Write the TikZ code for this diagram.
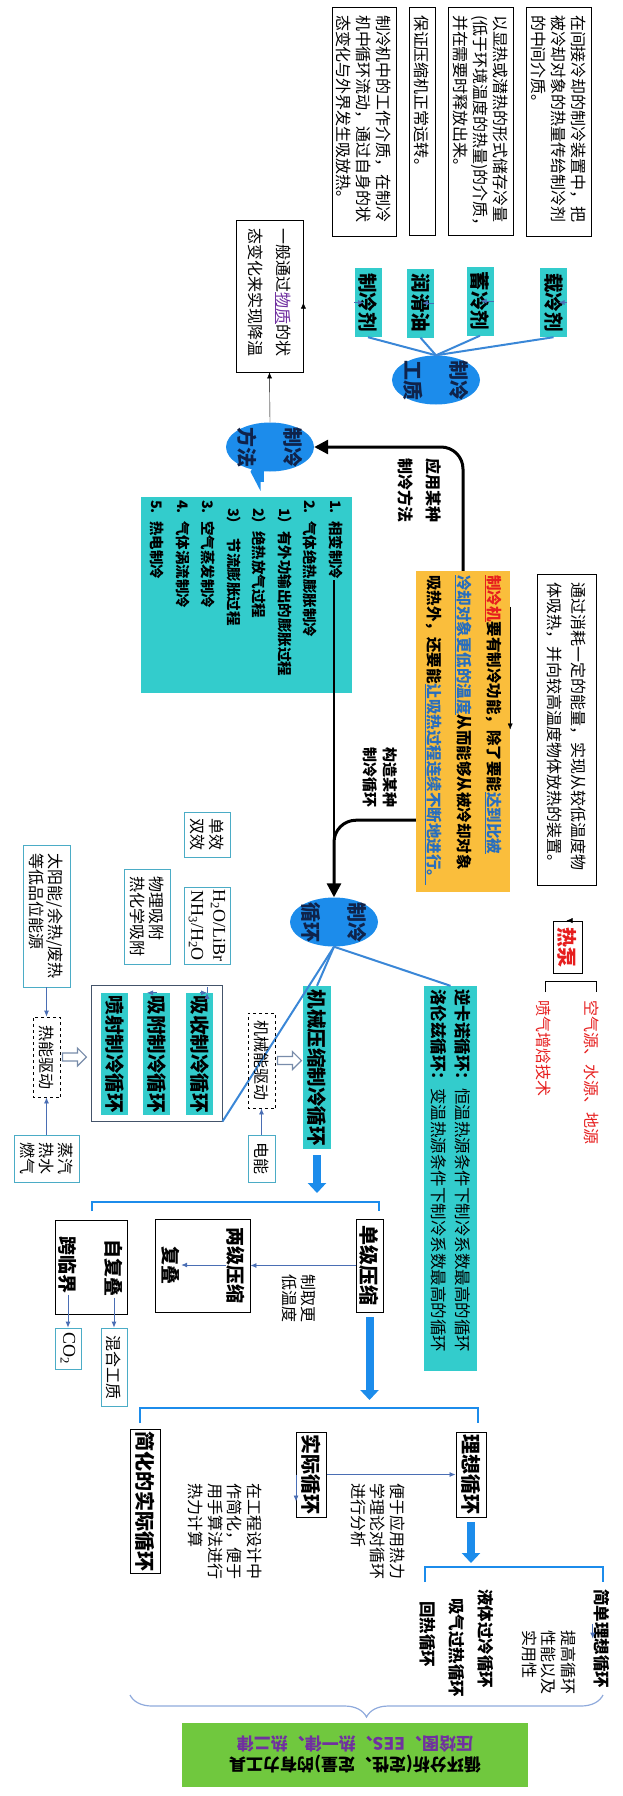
\documentclass[tikz,border=0pt]{standalone}
\usepackage{fontspec}
\setmainfont{Noto Sans CJK SC}
\newfontfamily\romanfont{Liberation Serif}
\usetikzlibrary{arrows.meta, shapes.geometric, decorations.pathreplacing, calc}

\definecolor{qingse}{RGB}{51,204,204}
\definecolor{tuoyuanlan}{RGB}{28,140,235}
\definecolor{lianjie}{RGB}{58,135,215}
\definecolor{xianlan}{RGB}{74,110,180}
\definecolor{chengse}{RGB}{250,190,60}
\definecolor{lvse}{RGB}{112,200,62}
\definecolor{zise}{RGB}{112,48,160}
\definecolor{wenlan}{RGB}{40,110,190}
\definecolor{hongse}{RGB}{230,30,30}
\definecolor{kuangse}{RGB}{75,172,198}
\definecolor{zuse}{RGB}{68,84,106}
\definecolor{huilan}{RGB}{120,140,170}
\definecolor{kuohao}{RGB}{143,170,220}
\definecolor{shenlan}{RGB}{15,35,75}

\tikzset{
  desc/.style={draw, line width=0.8pt, align=left, inner xsep=8pt, inner ysep=4pt,
    font=\fontsize{16}{20}\selectfont},
  framed/.style={draw=kuangse, line width=0.8pt, align=center, inner sep=2pt,
    font=\fontsize{16}{19}\selectfont},
  dashbox/.style={draw, dashed, line width=0.8pt, inner sep=2pt,
    font=\fontsize{16}{19}\selectfont},
  cyanbox/.style={fill=qingse, inner sep=2pt, font=\fontsize{19.5}{23}\bfseries\selectfont},
  oval/.style={ellipse, fill=tuoyuanlan, text=shenlan, inner sep=-3pt, align=center,
    minimum width=49pt, minimum height=88pt, font=\fontsize{20}{46}\bfseries\selectfont},
  boldbox/.style={draw, line width=0.9pt, inner sep=2pt, font=\fontsize{20}{24}\bfseries\selectfont},
  boldtext/.style={inner sep=1pt, font=\fontsize{19}{23}\bfseries\selectfont},
  note/.style={align=left, inner sep=0pt, font=\fontsize{16}{19.5}\selectfont},
  slim/.style={->, line width=0.8pt, draw=xianlan},
  fork/.style={draw=lianjie, line width=2pt},
  bigarrow/.style={draw=tuoyuanlan, line width=8pt, -{Triangle[length=10pt,width=18pt]}},
  bluebracket/.style={draw=tuoyuanlan, line width=2.5pt},
  hollow/.style={draw=huilan, line width=1.2pt, fill=white},
  heavy/.style={line width=3pt, rounded corners=22pt, -{Triangle[length=14pt,width=14pt]}}
}

\begin{document}
\begin{tikzpicture}[x=1pt, y=1pt, rotate=-90, transform shape, >={Latex[length=6pt,width=5pt]}]
\useasboundingbox (0,0) rectangle (1796,623);

% 工质说明
\node[desc, text width=213pt, minimum height=65pt] (zaishuo) at (121.5,558.5) {在间接冷却的制冷装置中，把\\被冷却对象的热量传给制冷剂\\的中间介质。};
\node[desc, text width=212pt, minimum height=65pt] (xushuo) at (121,480.5) {以显热或潜热的形式储存冷量\\(低于环境温度的热量)的介质，\\并在需要时释放出来。};
\node[desc, text width=212pt, minimum height=26pt] (runshuo) at (121,422) {保证压缩机正常运转。};
\node[desc, text width=213pt, minimum height=64pt] (zhishuo) at (121.5,364) {制冷机中的工作介质，在制冷\\机中循环流动，通过自身的状\\态变化与外界发生吸放热。};

% 制冷工质
\node[cyanbox, minimum width=69pt, minimum height=27pt] (zaileng) at (302.5,553.5) {载冷剂};
\node[cyanbox, minimum width=69pt, minimum height=27pt] (xuleng) at (301,480) {蓄冷剂};
\node[cyanbox, minimum width=69pt, minimum height=27pt] (runhua) at (303,420.5) {润滑油};
\node[cyanbox, minimum width=69pt, minimum height=27pt] (zhileng) at (302.5,368) {制冷剂};
\node[oval] (gongzhi) at (380,436) {制冷\\工质};
\draw[fork] (gongzhi.west) -- (zaileng.east);
\draw[fork] (gongzhi.west) -- (xuleng.east);
\draw[fork] (gongzhi.west) -- (runhua.east);
\draw[fork] (gongzhi.west) -- (zhileng.east);
\draw[slim] (zaileng) -- (zaileng |- zaishuo.east);
\draw[slim] (xuleng) -- (xuleng |- xushuo.east);
\draw[slim] (runhua) -- (runhua |- runshuo.east);
\draw[slim] (zhileng) -- (zhileng |- zhishuo.east);

% 制冷方法
\node[desc, text width=136pt, minimum height=67pt, font=\fontsize{16}{28}\selectfont] (jiangwen) at (296,269.5) {一般通过\textcolor{zise}{\underline{物质}}的状\\态变化来实现降温};
\node[oval] (fangfa) at (447,270) {制冷\\方法};
\draw[->] (fangfa.west) -- (jiangwen.east);
\coordinate (wuzhi) at ($(jiangwen.north west)!0.585!(jiangwen.north east)$);
\draw[->] (wuzhi) -- (wuzhi -| zhileng.south);
\node[fill=qingse, text width=190pt, inner xsep=3pt, minimum height=211pt, align=left,
  font=\fontsize{14.5}{25.5}\bfseries\selectfont] (liebiao) at (595,246.5)
  {1. 相变制冷\\2. 气体绝热膨胀制冷\\\hspace*{8pt}1）有外功输出的膨胀过程\\\hspace*{8pt}2）绝热放气过程\\\hspace*{8pt}3）\enspace 节流膨胀过程\\3. 空气蒸发制冷\\4. 气体涡流制冷\\5. 热电制冷};
\draw[bigarrow, line width=20pt, -{Triangle[length=10pt,width=38pt]}, shorten <=6pt, shorten >=4pt] (fangfa.east) -- (fangfa.east |- liebiao.west);

% 制冷机与热泵
\node[fill=chengse, text width=313pt, inner xsep=4pt, minimum height=94pt, align=left,
  font=\fontsize{15.5}{30}\bfseries\selectfont] (zhilengji) at (731.5,463)
  {\textcolor{hongse}{\underline{制冷机}}要有制冷功能，除了要能\textcolor{wenlan}{\underline{达到比被}}\\\textcolor{wenlan}{\underline{冷却对象更低的温度}}从而能够从被冷却对象\\吸热外，还要能\textcolor{wenlan}{\underline{让吸热过程连续不断地进行。}}};
\node[desc, text width=295pt, minimum height=59pt, font=\fontsize{16}{24}\selectfont] (zhuangzhi) at (729.5,566.5) {通过消耗一定的能量，实现从较低温度物\\体吸热，并向较高温度物体放热的装置。};
\coordinate (gongneng) at ($(zhilengji.north west)!0.112!(zhilengji.north east)$);
\draw[->] (gongneng) -- (gongneng -| zhuangzhi.south);
\node[boldbox, text=hongse, minimum width=52pt, minimum height=29pt] (rebeng) at (947,567.5) {热泵};
\draw[->] (rebeng.west) -- (rebeng.west |- zhuangzhi.east);
\draw[line width=1pt] (992,545) -- (981,545) -- (981,596) -- (992,596);
\node[note, anchor=west, text=hongse] (yuan) at (1000,592) {空气源、水源、地源};
\node[note, anchor=west, text=hongse] (penqi) at (1000,544) {喷气增焓技术};

% 两条粗线
\draw[heavy] (zhilengji.west) -| (fangfa.north);
\node[align=center, inner sep=0pt, font=\fontsize{16}{28}\bfseries\selectfont] (yingyong) at (490,420) {应用某种\\制冷方法};
\node[oval] (xunhuan) at (922,334) {制冷\\循环};
\coordinate (xiangbian) at (580,334);
\draw[line width=2pt, shorten >=8pt] (xiangbian) -- (xunhuan.west);
\coordinate (goujian) at ($(zhilengji.south west)!0.776!(zhilengji.south east)$);
\draw[heavy] (goujian) |- (xunhuan.west);
\node[align=center, inner sep=0pt, font=\fontsize{15}{20}\bfseries\selectfont] (gouzao) at (777,380) {构造某种\\制冷循环};

% 制冷循环分类
\node[draw=zuse, line width=1pt, minimum width=136pt, minimum height=131pt] (zu) at (1053,156.5) {};
\node[cyanbox, minimum width=122pt, minimum height=27pt] (xishou) at (1054,199.5) {吸收制冷循环};
\node[cyanbox, minimum width=122pt, minimum height=27pt] (xifu) at (1054,156.5) {吸附制冷循环};
\node[cyanbox, minimum width=122pt, minimum height=27pt] (penshe) at (1054,114.5) {喷射制冷循环};
\node[cyanbox, minimum width=163pt, minimum height=28pt] (jixieyasuo) at (1067.5,317) {机械压缩制冷循环};
\node[fill=qingse, text width=379pt, inner xsep=3pt, minimum height=53pt, align=left,
  font=\fontsize{16.5}{24}\selectfont] (nikanuo) at (1178.5,450.5)
  {\textbf{逆卡诺循环：}恒温热源条件下制冷系数最高的循环\\\textbf{洛伦兹循环：}变温热源条件下制冷系数最高的循环};
\draw[fork] (xunhuan.east) -- (zu.north east);
\draw[fork] (xunhuan.east) -- (jixieyasuo.west);
\draw[fork] (xunhuan.east) -- (nikanuo.west);

\node[framed, minimum width=77pt, minimum height=46pt, font=\romanfont\fontsize{18}{22}\selectfont] (rongye) at (925.5,207) {H\textsubscript{2}O/LiBr\\NH\textsubscript{3}/H\textsubscript{2}O};
\node[framed, minimum width=45pt, minimum height=46pt] (danxiao) at (834.5,207) {单效\\双效};
\node[framed, minimum width=95pt, minimum height=46pt, align=left] (wuli) at (916.5,147) {物理吸附\\热化学吸附};
\draw[slim] (xishou.west) -- (xishou.west |- rongye.east);
\draw[slim] (xishou.west |- rongye.west) -- (xishou.west |- danxiao.east);
\draw[slim] (xifu.west) -- (xifu.west |- wuli.east);

\node[framed, minimum width=142pt, minimum height=47pt, align=left] (taiyang) at (916,46.5) {太阳能/余热/废热\\等低品位能源};
\node[dashbox, minimum width=80pt, minimum height=27pt] (reneng) at (1057,46.5) {热能驱动};
\node[framed, minimum width=47pt, minimum height=65pt] (zhengqi) at (1158.5,46.5) {蒸汽\\热水\\燃气};
\draw[slim] (taiyang.east) -- (reneng.west);
\draw[slim] (zhengqi.west) -- (reneng.east);
\draw[hollow] (reneng.north) ++(-4,2) -- ++(0,15) -- ++(-5,0) -- ++(9,9) -- ++(9,-9) -- ++(-5,0) -- ++(0,-15) -- cycle;
\node[dashbox, minimum width=95pt, minimum height=27pt] (jixie) at (1060.5,261.5) {机械能驱动};
\node[framed, minimum width=47pt, minimum height=27pt] (dianneng) at (1158.5,261.5) {电能};
\draw[slim] (dianneng.west) -- (jixie.east);
\draw[hollow] (jixie.north) ++(-4,2) -- ++(0,15) -- ++(-5,0) -- ++(9,9) -- ++(9,-9) -- ++(-5,0) -- ++(0,-15) -- cycle;

% 压缩级数
\coordinate (kuo1) at (1202,317);
\draw[bigarrow, shorten <=6pt, shorten >=9pt] (jixieyasuo.east) -- (kuo1);
\draw[bluebracket] (1211,92) -- (1202,92) -- (1202,379) -- (1211,379);
\node[boldbox, minimum width=93pt, minimum height=27pt] (danji) at (1265.5,369.5) {单级压缩};
\node[draw, line width=0.9pt, minimum width=93pt, minimum height=95pt] (liangji) at (1265.5,202.5) {};
\node[boldtext] (liangjiya) at (1265,236) {两级压缩};
\node[boldtext] (fudie) at (1265,171) {复叠};
\draw[slim] (liangjiya) -- (fudie);
\draw[slim] (danji) -- (liangji);
\node[note, align=center] (zhiqu) at (1298,299) {制取更\\低温度};
\node[draw, line width=0.9pt, minimum width=94pt, minimum height=72pt] (zifu) at (1267,91) {};
\node[boldtext] (zifudie) at (1268,114) {自复叠};
\node[boldtext] (kualin) at (1265,68) {跨临界};
\node[framed, minimum width=78pt, minimum height=26pt] (hunhe) at (1367,114) {混合工质};
\node[framed, minimum width=41pt, minimum height=26pt, font=\romanfont\fontsize{18}{22}\selectfont] (co2) at (1348.5,68) {CO\textsubscript{2}};
\draw[slim] (zifudie) -- (hunhe);
\draw[slim] (kualin) -- (co2);

% 理想循环与实际循环
\coordinate (kuo2) at (1408,369.5);
\draw[bigarrow, shorten <=5pt, shorten >=8pt] (danji.east) -- (kuo2);
\draw[bluebracket] (1423,140) -- (1408,140) -- (1408,478) -- (1423,478);
\node[boldbox, minimum width=85pt, minimum height=30pt] (lixiang) at (1474.5,471) {理想循环};
\node[boldbox, minimum width=85pt, minimum height=30pt] (shiji) at (1474.5,311.5) {实际循环};
\node[boldbox, minimum width=141pt, minimum height=30pt] (jianhua) at (1501.5,145) {简化的实际循环};
\draw[slim] (shiji) -- (lixiang);
\draw[slim] (shiji.south) -- (shiji.south -| jianhua.north);
\node[note, anchor=north west] (bianyu) at (1483,405) {便于应用热力\\学理论对循环\\进行分析};
\node[note, anchor=north west] (gongcheng) at (1483,262) {在工程设计中\\作简化，便于\\用手算法进行\\热力计算};

\coordinate (kuo3) at (1567,471);
\draw[bigarrow, shorten <=5pt, shorten >=4pt] (lixiang.east) -- (kuo3);
\draw[bluebracket] (1582,425) -- (1567,425) -- (1567,603) -- (1582,603);
\node[boldtext, anchor=west, font=\fontsize{16.5}{20}\bfseries\selectfont] (jiandan) at (1588,602) {简单理想循环};
\node[boldtext, anchor=west, font=\fontsize{16.5}{20}\bfseries\selectfont] (yeti) at (1588,486) {液体过冷循环};
\node[boldtext, anchor=west, font=\fontsize{16.5}{20}\bfseries\selectfont] (xiqi) at (1597,457) {吸气过热循环};
\node[boldtext, anchor=west, font=\fontsize{16.5}{20}\bfseries\selectfont] (huire) at (1600,428) {回热循环};
\coordinate (tigao) at ($(jiandan.south west)!0.35!(jiandan.south east)$);
\draw[slim] (tigao) -- (tigao -| yeti.north);
\node[note, anchor=north west] (xingneng) at (1630,576) {提高循环\\性能以及\\实用性};

% 分析工具
\draw[draw=kuohao, line width=1.2pt, decorate, decoration={brace, amplitude=22pt}] (1695,603) -- (1695,130);
\node[fill=lvse, rotate=-90, minimum width=346pt, minimum height=64pt, align=center,
  font=\fontsize{17}{21}\bfseries\selectfont] (gongju) at (1755,355)
  {循环分析(定性、定量)的有力工具\\\textcolor{zise}{压焓图、EES、热一律、热二律}};

\end{tikzpicture}
\end{document}
